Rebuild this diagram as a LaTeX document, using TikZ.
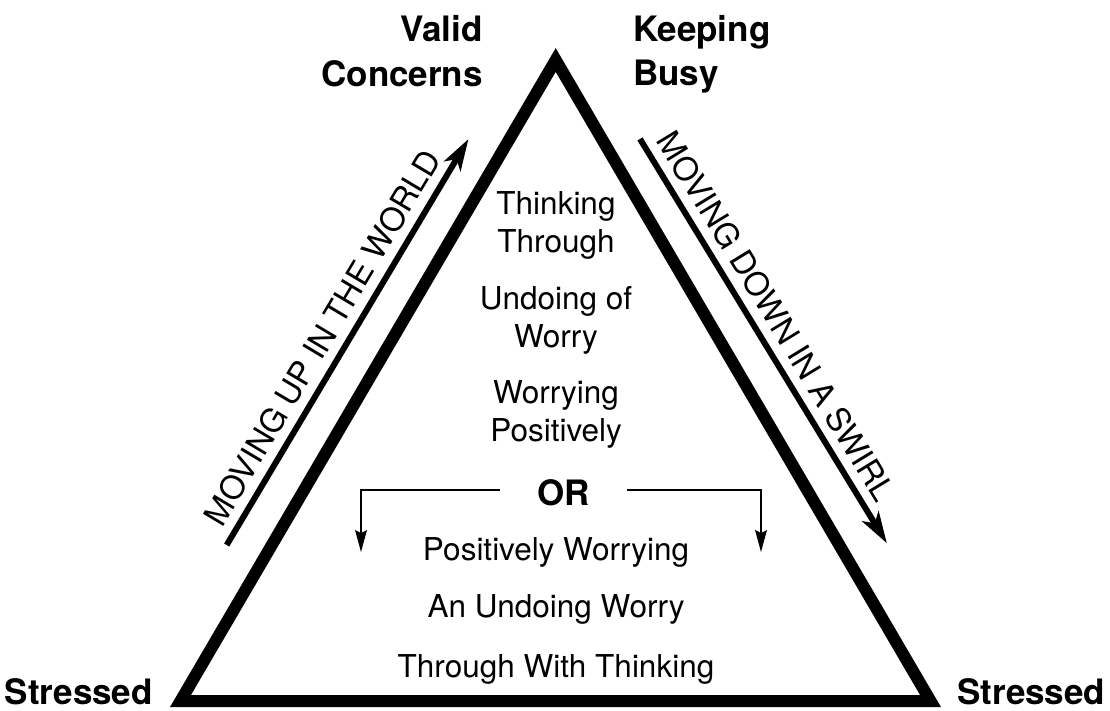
\documentclass[tikz,border=0pt]{standalone}
\usepackage{fontspec}
\setmainfont{TeX Gyre Heros}
\usetikzlibrary{arrows.meta}
\begin{document}
\begin{tikzpicture}[x=1pt,y=-1pt,
  inner/.style={font=\fontsize{31.5}{38}\selectfont, inner sep=0pt, anchor=base},
  lbl/.style={font=\bfseries\fontsize{35}{42}\selectfont, inner sep=0pt},
  side/.style={font=\fontsize{32.5}{39}\selectfont, inner sep=0pt, anchor=base},
  tri/.style={line width=12pt, line join=miter},
  bigarrow/.style={line width=6pt, -{Stealth[length=32pt,width=20pt,inset=9pt,line width=0pt]}},
  smallarrow/.style={line width=2pt, -{Stealth[length=22pt,width=12pt,inset=3pt,line width=0pt]}}]
\useasboundingbox (0,0) rectangle (1110,711);
% triangle
\coordinate (A) at (555.7,60);
\coordinate (B) at (180.5,701);
\coordinate (C) at (930.5,701);
\draw[tri] (A) -- (B) -- (C) -- cycle;
% side arrows
\coordinate (L0) at (226.7,545);
\coordinate (L1) at (468.3,139.3);
\draw[bigarrow] (L0) -- (L1);
\coordinate (R0) at (640,139);
\coordinate (R1) at (886.7,543);
\draw[bigarrow] (R0) -- (R1);
% side labels
\node[side, rotate=59.2] (upl) at (332.3,343.6) {MOVING UP IN THE WORLD};
\node[side, rotate=-58.6] (dnl) at (766.2,322.2) {MOVING DOWN IN A SWIRL};
% corner labels
\node[lbl, anchor=base east] (v1) at (483,42) {Valid};
\node[lbl, anchor=base east] (v2) at (483,87) {Concerns};
\node[lbl, anchor=base west] (k1) at (633,42) {Keeping};
\node[lbl, anchor=base west] (k2) at (633,86) {Busy};
\node[lbl, anchor=base east] (s1) at (153,704) {Stressed};
\node[lbl, anchor=base west] (s2) at (957,704) {Stressed};
% inner text
\node[inner] (t1) at (556,215) {Thinking};
\node[inner] (t2) at (556,252) {Through};
\node[inner] (t3) at (556,309) {Undoing of};
\node[inner] (t4) at (556,347) {Worry};
\node[inner] (t5) at (556,403) {Worrying};
\node[inner] (t6) at (556,441) {Positively};
\node[inner] (t7) at (556,560) {Positively Worrying};
\node[inner] (t8) at (556,617) {An Undoing Worry};
\node[inner] (t9) at (556,677) {Through With Thinking};
% OR with brackets
\node[lbl, anchor=base, inner xsep=37.5pt] (or) at (563.5,505) {OR};
\coordinate (la) at (361,552);
\coordinate (ra) at (761,552);
\draw[smallarrow] ([yshift=2.4pt]or.west) -| (la);
\draw[smallarrow] ([yshift=2.4pt]or.east) -| (ra);
\end{tikzpicture}
\end{document}
